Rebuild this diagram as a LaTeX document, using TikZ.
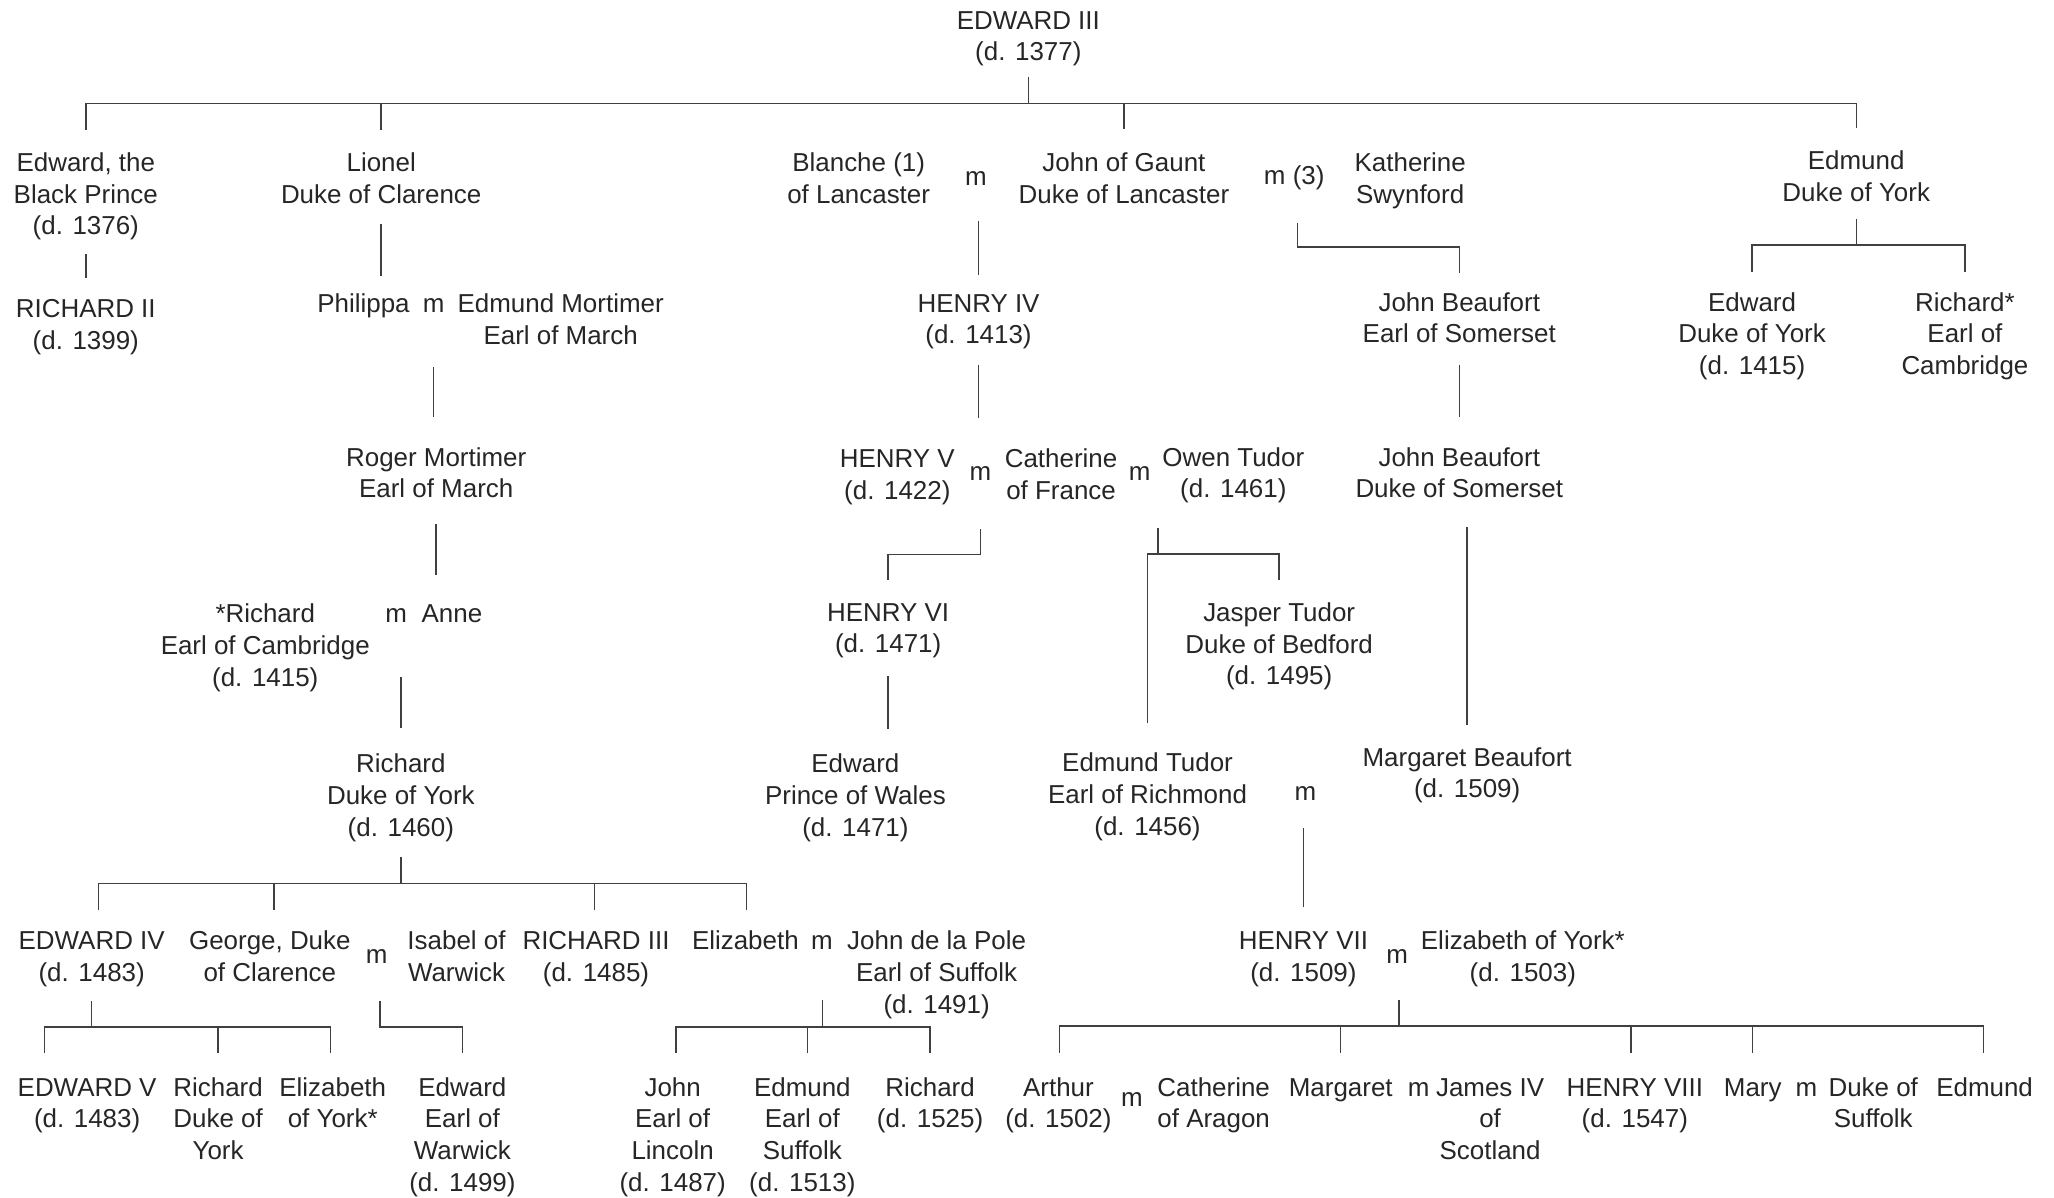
\documentclass[tikz,border=0pt]{standalone}
\usepackage{fontspec}
\setmainfont{Liberation Sans}
\newcommand{\BR}{\\\strut}
\begin{document}
\begin{tikzpicture}[x=1pt,y=-1pt,
  p/.style={anchor=north, inner sep=0pt, align=center, font=\fontsize{19.8}{24.3}\selectfont, text=black!85},
  mm/.style={inner sep=0pt, font=\fontsize{19.8}{24.3}\selectfont, text=black!85},
  ln/.style={line width=1.1pt, draw=black!75}]
\useasboundingbox[fill=white] (0,0) rectangle (1568,914);
% row 1
\node[p] (e3) at (785,5) {\strut EDWARD III\BR (d. 1377)};
% row 2
\node[p] (bp) at (65.5,113.5) {\strut Edward, the\BR Black Prince\BR (d. 1376)};
\node[p] (lio) at (291,113.5) {\strut Lionel\BR Duke of Clarence};
\node[p] (bla) at (655.5,113.5) {\strut Blanche (1)\BR of Lancaster};
\node[mm] (m1) at (745,136) {m};
\node[p] (jg) at (858,113.5) {\strut John of Gaunt\BR Duke of Lancaster};
\node[mm] (m3) at (988,136) {m (3)};
\node[p] (kat) at (1076.5,113.5) {\strut Katherine\BR Swynford};
\node[p] (edm) at (1417,112.5) {\strut Edmund\BR Duke of York};
% row 3
\node[p] (r2) at (65.5,225.4) {\strut RICHARD II\BR (d. 1399)};
\node[p] (phi) at (277.5,221.6) {\strut Philippa};
\node[mm] (m4) at (331,233.6) {m};
\node[p] (emo) at (428,221.6) {\strut Edmund Mortimer\BR Earl of March};
\node[p] (h4) at (747,221) {\strut HENRY IV\BR (d. 1413)};
\node[p] (jb1) at (1114,220.3) {\strut John Beaufort\BR Earl of Somerset};
\node[p] (edy) at (1337.5,220.3) {\strut Edward\BR Duke of York\BR (d. 1415)};
\node[p] (ric) at (1500,220.3) {\strut Richard*\BR Earl of\BR Cambridge};
% row 4
\node[p] (rog) at (333,338.6) {\strut Roger Mortimer\BR Earl of March};
\node[p] (h5) at (685,339.8) {\strut HENRY V\BR (d. 1422)};
\node[mm] (m5) at (748.5,361.3) {m};
\node[p] (cat) at (810,339.5) {\strut Catherine\BR of France};
\node[mm] (m6) at (870,361.3) {m};
\node[p] (owen) at (941.5,338.6) {\strut Owen Tudor\BR (d. 1461)};
\node[p] (jb2) at (1114,338.6) {\strut John Beaufort\BR Duke of Somerset};
% row 5
\node[p] (rc) at (202.5,458.2) {\strut *Richard\BR Earl of Cambridge\BR (d. 1415)};
\node[mm] (m7) at (302.5,470.2) {m};
\node[p] (anne) at (345,458.2) {\strut Anne};
\node[p] (h6) at (678,456.9) {\strut HENRY VI\BR (d. 1471)};
\node[p] (jas) at (976.5,457) {\strut Jasper Tudor\BR Duke of Bedford\BR (d. 1495)};
% row 6
\node[p] (rdy) at (306,572.6) {\strut Richard\BR Duke of York\BR (d. 1460)};
\node[p] (epw) at (653,572.6) {\strut Edward\BR Prince of Wales\BR (d. 1471)};
\node[p] (et) at (876,572) {\strut Edmund Tudor\BR Earl of Richmond\BR (d. 1456)};
\node[mm] (m8) at (996.5,605.6) {m};
\node[p] (mb) at (1120,567.6) {\strut Margaret Beaufort\BR (d. 1509)};
% row 7
\node[p] (e4) at (70,707.6) {\strut EDWARD IV\BR (d. 1483)};
\node[p] (geo) at (206,707.6) {\strut George, Duke\BR of Clarence};
\node[mm] (m9) at (287.5,730) {m};
\node[p] (isa) at (348.5,707.6) {\strut Isabel of\BR Warwick};
\node[p] (r3) at (455,707.6) {\strut RICHARD III\BR (d. 1485)};
\node[p] (eliz) at (569,707.6) {\strut Elizabeth};
\node[mm] (m10) at (627.5,719.6) {m};
\node[p] (jdp) at (715,707.6) {\strut John de la Pole\BR Earl of Suffolk\BR (d. 1491)};
\node[p] (h7) at (995,707.6) {\strut HENRY VII\BR (d. 1509)};
\node[mm] (m11) at (1066.5,730) {m};
\node[p] (eoy) at (1162.5,707.6) {\strut Elizabeth of York*\BR (d. 1503)};
% row 8
\node[p] (e5) at (66.5,819.5) {\strut EDWARD V\BR (d. 1483)};
\node[p] (rdy2) at (166.5,819.5) {\strut Richard\BR Duke of\BR York};
\node[p] (ey) at (254,819.5) {\strut Elizabeth\BR of York*};
\node[p] (eow) at (353,819.5) {\strut Edward\BR Earl of\BR Warwick\BR (d. 1499)};
\node[p] (jl) at (513.5,819.5) {\strut John\BR Earl of\BR Lincoln\BR (d. 1487)};
\node[p] (edm2) at (612.5,819.5) {\strut Edmund\BR Earl of\BR Suffolk\BR (d. 1513)};
\node[p] (ric2) at (710,819.5) {\strut Richard\BR (d. 1525)};
\node[p] (art) at (808,819.5) {\strut Arthur\BR (d. 1502)};
\node[mm] (m12) at (864,839.7) {m};
\node[p] (cara) at (926.5,819.5) {\strut Catherine\BR of Aragon};
\node[p] (marg) at (1023.5,819.5) {\strut Margaret};
\node[mm] (m13) at (1083,831.5) {m};
\node[p] (jam) at (1137.5,819.5) {\strut James IV\BR of\BR Scotland};
\node[p] (h8) at (1248,819.5) {\strut HENRY VIII\BR (d. 1547)};
\node[p] (mary) at (1338,819.5) {\strut Mary};
\node[mm] (m14) at (1379,831.5) {m};
\node[p] (duke) at (1430,819.5) {\strut Duke of\BR Suffolk};
\node[p] (edm3) at (1515,819.5) {\strut Edmund};
% connectors
\coordinate (bus1) at (785,79);
\draw[ln] ([yshift=-5pt]e3.south) -- (bus1);
\draw[ln] ([yshift=14.5pt]bp.north) |- (bus1) -| ([yshift=14.5pt]edm.north);
\draw[ln] (bus1 -| lio) -- ([yshift=14pt]lio.north);
\draw[ln] (bus1 -| jg) -- ([yshift=15pt]jg.north);
\draw[ln] ([yshift=-7pt]bp.south) -- ([yshift=13pt]r2.north);
\draw[ln] ([yshift=-8.5pt]lio.south) -- ++(0,39.5);
\draw[ln] ([yshift=11pt]h4.north) -- ++(0,-41);
\draw[ln] ([xshift=2.5pt,yshift=-24.7pt]m3.south) -- ++(0,18.3) -| ([yshift=11.6pt]jb1.north);
\draw[ln] ([yshift=-5.6pt]edm.south) -- ++(0,19.8) coordinate (bus2);
\draw[ln] ([yshift=12.9pt]edy.north) |- (bus2) -| ([yshift=12.9pt]ric.north);
\draw[ln] ([yshift=-41.2pt]m4.south) -- ++(0,38);
\draw[ln] ([yshift=-12.3pt]rog.south) -- ++(0,39.4);
\draw[ln] ([yshift=16.6pt]rdy.north) -- ++(0,-39.5);
\draw[ln] ([yshift=-8.4pt]h4.south) -- ++(0,41);
\draw[ln] ([yshift=-36.9pt]m5.south) -- ++(0,19.6) -| ([yshift=14.2pt]h6.north);
\draw[ln] ([xshift=14pt,yshift=-36.4pt]m6.south) -- ++(0,19.6) coordinate (bus3);
\draw[ln] ([yshift=14.3pt]jas.north) |- (bus3) -| ([yshift=20pt]et.north);
\draw[ln] ([yshift=-9.7pt]jb1.south) -- ++(0,39.4);
\draw[ln] ([yshift=14.2pt]mb.north) -- ++(0,-151.4);
\draw[ln] ([yshift=-10.5pt]h6.south) -- ++(0,40);
\draw[ln] ([yshift=15.6pt]h7.north) -- ++(0,-60);
\draw[ln] ([yshift=-8.5pt]rdy.south) -- ++(0,20) coordinate (bus4);
\draw[ln] ([xshift=5pt,yshift=12.9pt]e4.north) |- (bus4) -| ([xshift=1pt,yshift=12.9pt]eliz.north);
\draw[ln] ([xshift=3pt,yshift=12.9pt]geo.north) -- ++(0,-20.7);
\draw[ln] ([xshift=-1pt,yshift=12.9pt]r3.north) -- ++(0,-20.7);
\draw[ln] ([yshift=-7.2pt]e4.south) -- ++(0,20.3) coordinate (bus5);
\draw[ln] ([xshift=-32.5pt,yshift=15.5pt]e5.north) |- (bus5) -| ([xshift=-1.5pt,yshift=15.5pt]ey.north);
\draw[ln] (bus5 -| rdy2) -- ([yshift=15.5pt]rdy2.north);
\draw[ln] ([xshift=2.5pt,yshift=-28.3pt]m9.south) -- ++(0,20.3) -| ([yshift=15.5pt]eow.north);
\draw[ln] ([xshift=0.5pt,yshift=-38.6pt]m10.south) -- ++(0,20.3) coordinate (bus6);
\draw[ln] ([xshift=2.5pt,yshift=15.5pt]jl.north) |- (bus6) -| ([yshift=15.5pt]ric2.north);
\draw[ln] ([xshift=4pt,yshift=15.5pt]edm2.north) -- ++(0,-20.3);
\draw[ln] ([xshift=1.5pt,yshift=-27.55pt]m11.south) -- ++(0,20.3) coordinate (bus7);
\draw[ln] ([xshift=1pt,yshift=15.9pt]art.north) |- (bus7) -| ([xshift=-1pt,yshift=15.9pt]edm3.north);
\draw[ln] ([yshift=15.9pt]marg.north) -- ++(0,-20.6);
\draw[ln] ([xshift=-3pt,yshift=15.9pt]h8.north) -- ++(0,-20.6);
\draw[ln] ([yshift=15.9pt]mary.north) -- ++(0,-20.6);
\end{tikzpicture}
\end{document}
